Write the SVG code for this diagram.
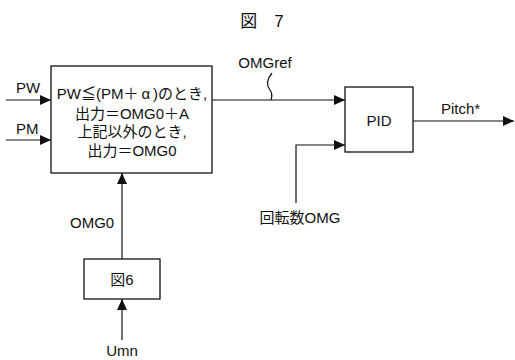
<svg xmlns="http://www.w3.org/2000/svg" width="515" height="360" viewBox="0 0 515 360">
<style>
text{font-family:"Liberation Sans","Noto Sans CJK JP",sans-serif;font-size:15px;fill:#111}
.box{fill:#fff;stroke:#111;stroke-width:1.3}
.ln{fill:none;stroke:#111;stroke-width:1.2}
.c{text-anchor:middle}
</style>
<defs>
<marker id="ah" markerUnits="userSpaceOnUse" markerWidth="12" markerHeight="10" refX="11" refY="5" orient="auto">
<path d="M0,0 L11,5 L0,10 Z" fill="#111"/>
</marker>
</defs>
<text x="262" y="27" class="c" style="font-size:17px">図　7</text>
<g id="connectors">
<path class="ln" d="M6,100 H51" marker-end="url(#ah)"/>
<path class="ln" d="M6,140 H51" marker-end="url(#ah)"/>
<path class="ln" d="M212,100 H345" marker-end="url(#ah)"/>
<path class="ln" d="M272,73 C266,80 267,86 270,90 C273,94 272,97 271,100"/>
<path class="ln" d="M296,203 V145 H345" marker-end="url(#ah)"/>
<path class="ln" d="M413,121 H514" marker-end="url(#ah)"/>
<path class="ln" d="M122,259 V173" marker-end="url(#ah)"/>
<path class="ln" d="M122,340 V299" marker-end="url(#ah)"/>
<text x="16" y="93">PW</text>
<text x="16" y="134">PM</text>
<text x="265" y="68" class="c">OMGref</text>
<text x="441" y="114">Pitch*</text>
<text x="300" y="223" class="c">回転数OMG</text>
<text x="70" y="228">OMG0</text>
<text x="122" y="356" class="c">Umn</text>
</g>
<g id="logic">
<rect class="box" x="51" y="66" width="161" height="107"/>
<text x="132" y="99" class="c">PW≦(PM＋<tspan dx="3">α</tspan><tspan dx="3">)のとき,</tspan></text>
<text x="132" y="119" class="c">出力＝OMG0＋A</text>
<text x="132" y="137" class="c">上記以外のとき,</text>
<text x="132" y="156" class="c">出力＝OMG0</text>
</g>
<g id="pid">
<rect class="box" x="345" y="87" width="68" height="65"/>
<text x="379" y="126" class="c">PID</text>
</g>
<g id="fig6">
<rect class="box" x="84" y="259" width="76" height="40"/>
<text x="122" y="285" class="c">図6</text>
</g>
</svg>
